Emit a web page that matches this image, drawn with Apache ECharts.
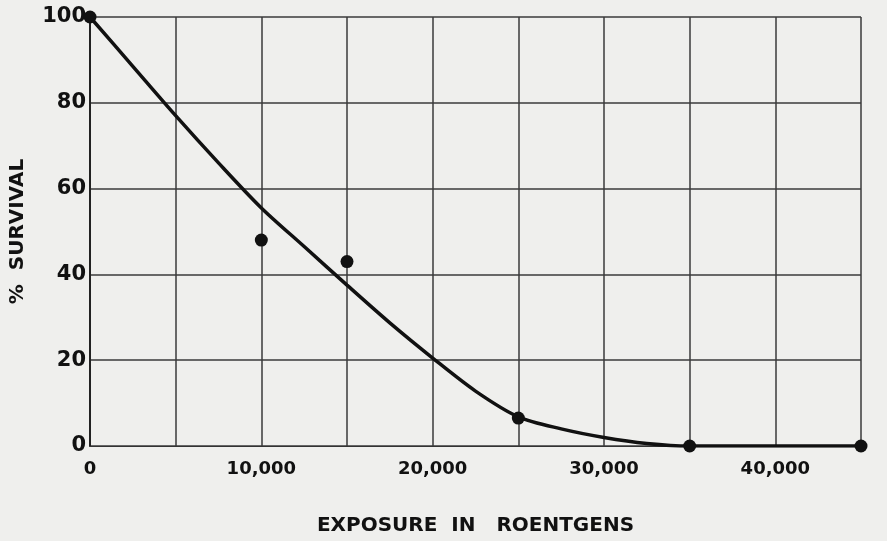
<!DOCTYPE html>
<html><head><meta charset="utf-8">
<script src="https://cdn.jsdelivr.net/npm/echarts@6/dist/echarts.min.js"></script>
<style>html,body{margin:0;padding:0;background:#efefed}#c{width:887px;height:541px}</style>
</head><body><div id="c"></div>
<script>
// Measured points (exposure in roentgens, % survival)
const pointX = [0, 10000, 15000, 25000, 35000, 45000];
const pointY = [100, 48, 43, 6.5, 0, 0];
// Fitted curve
const curveX = [0, 2500, 5000, 7500, 10000, 12500, 15000, 17500, 20000, 22500, 25000, 27500, 30000, 32500, 35000, 40000, 45000];
const curveY = [100, 88.5, 77, 66, 55.5, 46.5, 37.5, 28.7, 20.5, 12.8, 6.8, 4.0, 2.0, 0.6, 0, 0, 0];
const xTicks = [0, 10000, 20000, 30000, 40000];
const xTickLabels = ['0', '10,000', '20,000', '30,000', '40,000'];
const yTicks = [0, 20, 40, 60, 80, 100];

const chart = echarts.init(document.getElementById('c'));
const font = 'DejaVu Sans';
chart.setOption({
  backgroundColor: '#efefed',
  animation: false,
  grid: {left: 88, right: 26, top: 17, bottom: 93},
  xAxis: {
    type: 'value', min: 0, max: 45000, interval: 5000,
    axisLine: {show: true, lineStyle: {color: '#333', width: 1.2}},
    axisTick: {show: false},
    splitLine: {show: true, lineStyle: {color: '#3a3a3a', width: 1.5}},
    axisLabel: {
      margin: 14, color: '#111', fontFamily: font, fontWeight: 'bold', fontSize: 18,
      formatter: v => { const i = xTicks.indexOf(v); return i >= 0 ? xTickLabels[i] : ''; }
    },
    name: 'EXPOSURE  IN   ROENTGENS', nameLocation: 'middle', nameGap: 70,
    nameTextStyle: {color: '#111', fontFamily: font, fontWeight: 'bold', fontSize: 20}
  },
  yAxis: {
    type: 'value', min: 0, max: 100, interval: 20,
    axisLine: {show: true, lineStyle: {color: '#222', width: 2}},
    axisTick: {show: false},
    splitLine: {show: true, lineStyle: {color: '#3a3a3a', width: 1.5}},
    axisLabel: {margin: 4, color: '#111', fontFamily: font, fontWeight: 'bold', fontSize: 21,
      formatter: v => yTicks.indexOf(v) >= 0 ? String(v) : ''},
    name: '%  SURVIVAL', nameLocation: 'middle', nameGap: 62, nameRotate: 90,
    nameTextStyle: {color: '#111', fontFamily: font, fontWeight: 'bold', fontSize: 20}
  },
  series: [
    {
      type: 'line', data: curveX.map((x, i) => [x, curveY[i]]), smooth: 0.3,
      showSymbol: false, lineStyle: {color: '#111', width: 3.5}, z: 3
    },
    {
      type: 'scatter', data: pointX.map((x, i) => [x, pointY[i]]),
      symbolSize: 13, itemStyle: {color: '#111', opacity: 1}, z: 4
    }
  ]
});
</script></body></html>
